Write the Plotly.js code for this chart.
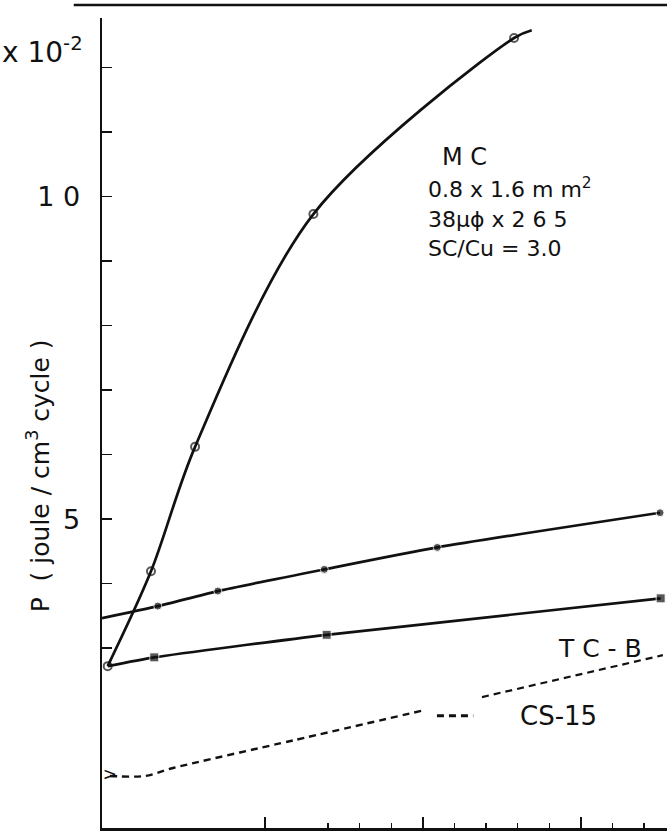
<!DOCTYPE html>
<html>
<head>
<meta charset="utf-8">
<script src="https://cdn.plot.ly/plotly-3.0.1.min.js"></script>
<style>
  html, body { margin: 0; padding: 0; background: #fff; }
  #chart { width: 667px; height: 838px; }
</style>
</head>
<body>
<div id="chart"></div>
<script>
// Hysteresis loss P (x10^-2 joule / cm^3 cycle) for three conductors.

// MC conductor (open circles), last value is the end of the drawn curve
const mcX = [0.006, 0.28, 0.559, 1.308, 2.578, 2.69];
const mcY = [2.72, 4.19, 6.12, 9.73, 12.46, 12.58];

// upper solid curve (filled circles), first value is where it leaves the axis
const upperX = [-0.03, 0.323, 0.703, 1.377, 2.092, 3.502];
const upperY = [3.465, 3.651, 3.884, 4.22, 4.561, 5.098];

// TC-B (filled squares), starts from the first MC point
const tcbX = [0.006, 0.301, 1.392, 3.506];
const tcbY = [2.72, 2.856, 3.206, 3.771];

// CS-15 (dashed): left part up to its label, then the part above the label
const csX = [0.02, 0.243, 0.42, 1.19, 2.015];
const csY = [1.016, 1.016, 1.14, 1.574, 2.04];
const csTailX = [2.375, 3.52];
const csTailY = [2.24, 2.89];

// y ticks: labelled ones and the unlabelled ones between
const yTickVals = [5, 10];
const yTickText = ['5', '1 0'];
const yMinorVals = [3, 4, 6, 7, 8, 9, 11, 12];
// x ticks
const xTickVals = [1, 2, 3];
const xMinorVals = [1.4, 1.6, 1.8, 2.2, 2.4, 2.6, 2.8, 3.2, 3.4];

const FONT = 'DejaVu Sans, Arial, sans-serif';
const INK = '#111';
const DASH = '7px,5px';
const LW = 2.7;

const traces = [
  {
    x: mcX, y: mcY, mode: 'lines+markers', line: { shape: 'spline', smoothing: 0.9, color: INK, width: LW },
    marker: { symbol: 'circle-open', size: [8, 8, 8, 8, 8, 0], color: INK, line: { width: 2, color: INK } },
    showlegend: false
  },
  {
    x: upperX, y: upperY, mode: 'lines+markers', line: { shape: 'spline', smoothing: 0.6, color: INK, width: LW },
    marker: { symbol: 'circle', size: [0, 8, 8, 8, 8, 8], color: INK },
    showlegend: false
  },
  {
    x: tcbX, y: tcbY, mode: 'lines+markers', line: { shape: 'spline', smoothing: 0.6, color: INK, width: LW },
    marker: { symbol: 'square', size: [0, 9, 9, 9], color: INK },
    showlegend: false
  },
  {
    x: csX, y: csY, mode: 'lines',
    line: { shape: 'spline', smoothing: 0.8, color: INK, width: 2.4, dash: DASH },
    showlegend: false
  },
  {
    x: csTailX, y: csTailY, mode: 'lines',
    line: { color: INK, width: 2.2, dash: DASH },
    showlegend: false
  },
  {
    x: [csX[0]], y: [csY[0]], mode: 'text', text: ['>'], textposition: 'middle center',
    textfont: { family: FONT, size: 17, color: INK }, showlegend: false
  }
];

const layout = {
  width: 667, height: 838,
  margin: { l: 102, r: 0, t: 18, b: 10 },
  paper_bgcolor: '#fff', plot_bgcolor: '#fff',
  showlegend: false,
  xaxis: {
    range: [-0.03, 3.546], showgrid: false, zeroline: false,
    showline: true, linecolor: INK, linewidth: 2.5,
    ticks: 'inside', ticklen: 11, tickwidth: 1.6, tickcolor: INK,
    tickvals: xTickVals, showticklabels: false,
    minor: { ticks: 'inside', ticklen: 5, tickwidth: 1.2, tickcolor: INK, tickvals: xMinorVals, showgrid: false }
  },
  yaxis: {
    range: [0.21, 12.77], showgrid: false, zeroline: false,
    showline: true, linecolor: INK, linewidth: 2.5,
    ticks: 'inside', ticklen: 10, tickwidth: 1.5, tickcolor: INK,
    tickvals: yTickVals, ticktext: yTickText,
    ticklabelstandoff: 14,
    tickfont: { family: FONT, size: 27, color: INK },
    minor: { ticks: 'inside', ticklen: 10, tickwidth: 1.5, tickcolor: INK, tickvals: yMinorVals, showgrid: false }
  },
  shapes: [
    // rule along the top of the figure
    { type: 'line', xref: 'paper', yref: 'paper', x0: -0.05, x1: 1, y0: 1.016, y1: 1.016, line: { color: INK, width: 2.5 } },
    // CS-15 line sample next to its label
    { type: 'line', xref: 'x', yref: 'y', x0: 2.09, x1: 2.32, y0: 1.95, y1: 1.95, line: { color: INK, width: 3, dash: DASH } }
  ],
  annotations: [
    { xref: 'paper', yref: 'paper', x: -0.105, y: 0.96, text: 'x 10<sup>-2</sup>', showarrow: false,
      xanchor: 'center', yanchor: 'middle', font: { family: FONT, size: 28, color: INK } },
    { xref: 'paper', yref: 'paper', x: -0.112, y: 0.435, text: 'P  ( joule / cm<sup>3</sup> cycle )', showarrow: false,
      textangle: -90, xanchor: 'center', yanchor: 'middle', font: { family: FONT, size: 25, color: INK } },
    { xref: 'x', yref: 'y', x: 2.11, y: 10.62, text: 'M C', showarrow: false, xanchor: 'left', yanchor: 'middle',
      font: { family: FONT, size: 24, color: INK } },
    { xref: 'x', yref: 'y', x: 2.02, y: 10.13, text: '0.8 x 1.6 m m<sup>2</sup>', showarrow: false, xanchor: 'left', yanchor: 'middle',
      font: { family: FONT, size: 22, color: INK } },
    { xref: 'x', yref: 'y', x: 2.02, y: 9.65, text: '38μϕ x 2 6 5', showarrow: false, xanchor: 'left', yanchor: 'middle',
      font: { family: FONT, size: 22, color: INK } },
    { xref: 'x', yref: 'y', x: 2.02, y: 9.2, text: 'SC/Cu = 3.0', showarrow: false, xanchor: 'left', yanchor: 'middle',
      font: { family: FONT, size: 22, color: INK } },
    { xref: 'x', yref: 'y', x: 3.12, y: 3.0, text: 'T C - B', showarrow: false, xanchor: 'center', yanchor: 'middle',
      font: { family: FONT, size: 25, color: INK } },
    { xref: 'x', yref: 'y', x: 2.86, y: 1.95, text: 'CS-15', showarrow: false, xanchor: 'center', yanchor: 'middle',
      font: { family: FONT, size: 26, color: INK } }
  ]
};

Plotly.newPlot('chart', traces, layout, { displayModeBar: false, staticPlot: true });
</script>
</body>
</html>
